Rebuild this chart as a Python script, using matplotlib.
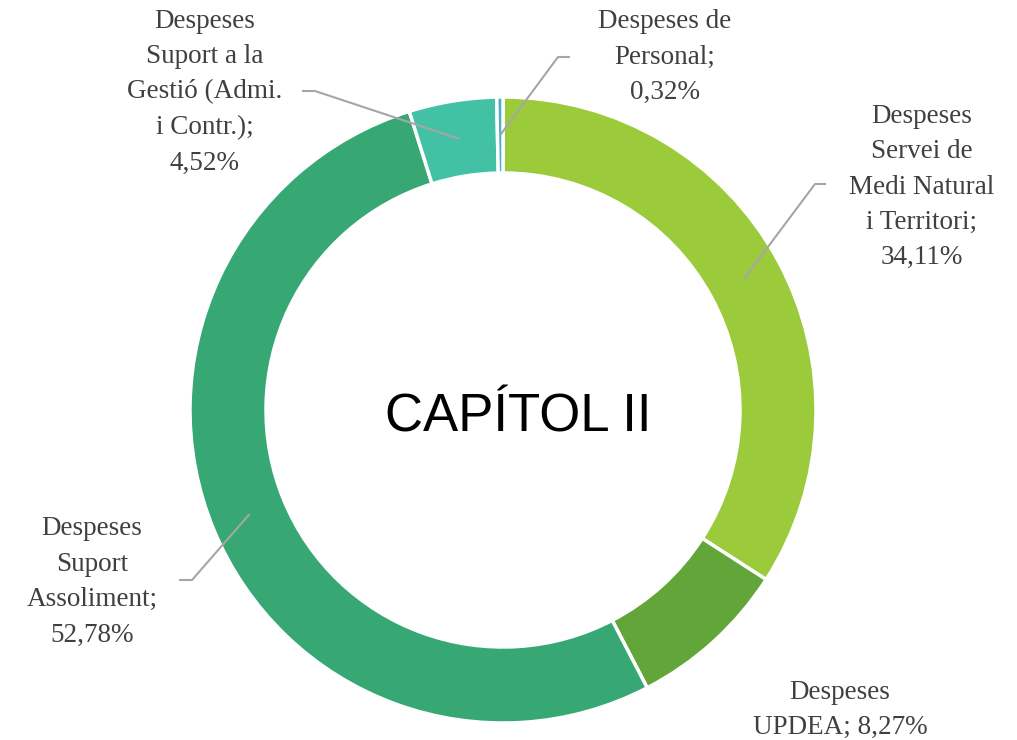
import numpy as np
import matplotlib.pyplot as plt

# Data
labels = ['Despeses\nServei de\nMedi Natural\ni Territori;', 'Despeses\nUPDEA;',
          'Despeses\nSuport\nAssoliment;', 'Despeses\nSuport a la\nGestió (Admi.\ni Contr.);',
          'Despeses de\nPersonal;']
values = [34.11, 8.27, 52.78, 4.52, 0.32]
pct_text = ['34,11%', '8,27%', '52,78%', '4,52%', '0,32%']
colors = ['#9BCB3B', '#62A539', '#37A874', '#43C1A4', '#4BACC6']

W, H = 1017, 740
fig = plt.figure(figsize=(W / 100, H / 100), dpi=100)
ax = fig.add_axes([0, 0, 1, 1])

cx, cy = 503, H - 410
r_out, ring = 313, 76

wedges, _ = ax.pie(values, colors=colors, startangle=90, counterclock=False,
                   center=(cx, cy), radius=r_out, frame=True,
                   wedgeprops=dict(width=ring, edgecolor='white', linewidth=2.5))
ax.set_xlim(0, W)
ax.set_ylim(0, H)
ax.set_aspect('equal')
ax.axis('off')

ax.text(cx + 15, cy - 8, 'CAPÍTOL II', ha='center', va='center', fontsize=38,
        family='Liberation Sans', color='black')

# label text position (pixels from top-left) and elbow of leader line
label_pos = [(922, 187), (840, 710), (92, 582), (205, 92), (665, 57)]
elbows = [((825, 184), (815, 184)), None, ((180, 580), (192, 580)),
          ((303, 91), (315, 91)), ((569, 57), (558, 57))]
seps = ['\n', ' ', '\n', '\n', '\n']

r_mid = r_out - ring / 2
for w, (tx, ty), el, lab, sep, pct in zip(wedges, label_pos, elbows, labels, seps, pct_text):
    ang = np.deg2rad((w.theta1 + w.theta2) / 2)
    px, py = cx + r_mid * np.cos(ang), cy + r_mid * np.sin(ang)
    if el is not None:
        xs = [el[0][0], el[1][0], px]
        ys = [H - el[0][1], H - el[1][1], py]
        ax.plot(xs, ys, color='#A6A6A6', lw=1.5, zorder=3)
    ax.text(tx, H - ty, lab + sep + pct, ha='center', va='center', fontsize=19.5,
            family='Liberation Serif', color='#404040', linespacing=1.55)

plt.savefig('out.png', dpi=100)
